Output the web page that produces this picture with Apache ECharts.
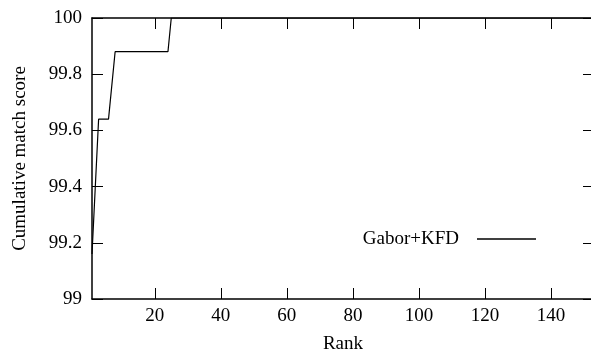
<!DOCTYPE html>
<html>
<head>
<meta charset="utf-8">
<script src="https://cdn.jsdelivr.net/npm/echarts@6/dist/echarts.min.js"></script>
<style>
  html, body { margin: 0; padding: 0; background: #fff; }
  #chart { width: 591px; height: 352px; }
</style>
</head>
<body>
<div id="chart"></div>
<script>
// Gabor+KFD cumulative match curve: [rank, score]
var rankPoints = [1, 3, 6, 8, 24, 25, 153];
var scoreValues = [99.16, 99.64, 99.64, 99.88, 99.88, 100, 100];
var rankTicks = [20, 40, 60, 80, 100, 120, 140];
var seriesName = 'Gabor+KFD';

var font = 'Liberation Serif';
var lineData = rankPoints.map(function (r, i) { return [r, scoreValues[i]]; });

var tickStyle = { show: true, inside: true, length: 11, lineStyle: { color: '#000', width: 1 } };
var lineStyleAxis = { show: true, lineStyle: { color: '#000', width: 1.5 } };

var myChart = echarts.init(document.getElementById('chart'));
myChart.setOption({
    backgroundColor: '#fff',
    animation: false,
    grid: { left: 92, top: 18, width: 502, height: 281, outerBoundsMode: 'none', containLabel: false },
    legend: {
        data: [{ name: seriesName, icon: 'rect' }],
        right: 50,
        top: 223,
        align: 'right',
        itemWidth: 59,
        itemHeight: 1.5,
        selectedMode: false,
        textStyle: { fontFamily: font, fontSize: 19, color: '#000', lineHeight: 22, padding: [0, 13, 0, 0] }
    },
    xAxis: [{
        type: 'value',
        min: 1,
        max: 153,
        position: 'bottom',
        name: 'Rank',
        nameLocation: 'middle',
        nameGap: 36,
        nameTextStyle: { fontFamily: font, fontSize: 19, color: '#000' },
        axisLine: lineStyleAxis,
        axisTick: Object.assign({ customValues: rankTicks }, tickStyle),
        axisLabel: { customValues: rankTicks, fontFamily: font, fontSize: 19, color: '#000', margin: 8 },
        splitLine: { show: false }
    }, {
        type: 'value',
        min: 1,
        max: 153,
        position: 'top',
        axisLine: lineStyleAxis,
        axisTick: Object.assign({ customValues: rankTicks }, tickStyle),
        axisLabel: { show: false },
        splitLine: { show: false }
    }],
    yAxis: [{
        type: 'value',
        min: 99,
        max: 100,
        interval: 0.2,
        position: 'left',
        name: 'Cumulative match score',
        nameLocation: 'middle',
        nameGap: 62,
        nameTextStyle: { fontFamily: font, fontSize: 19, color: '#000' },
        axisLine: lineStyleAxis,
        axisTick: tickStyle,
        axisLabel: { fontFamily: font, fontSize: 19, color: '#000', margin: 10 },
        splitLine: { show: false }
    }, {
        type: 'value',
        min: 99,
        max: 100,
        interval: 0.2,
        position: 'right',
        axisLine: lineStyleAxis,
        axisTick: tickStyle,
        axisLabel: { show: false },
        splitLine: { show: false }
    }],
    series: [{
        name: seriesName,
        type: 'line',
        data: lineData,
        showSymbol: false,
        clip: true,
        lineStyle: { color: '#000', width: 1.2 },
        itemStyle: { color: '#000' }
    }]
});
</script>
</body>
</html>
